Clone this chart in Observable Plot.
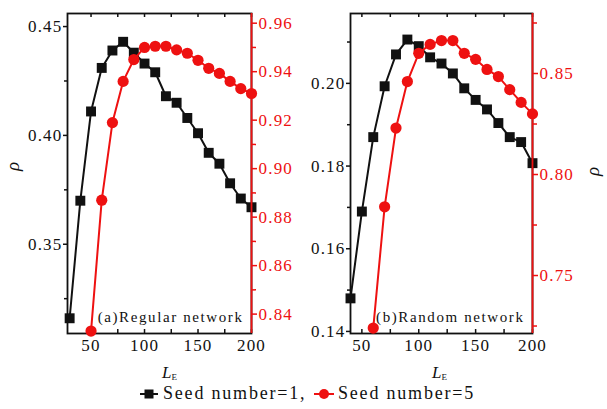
<!DOCTYPE html>
<html><head><meta charset="utf-8">
<script src="https://cdn.jsdelivr.net/npm/d3@7"></script>
<script src="https://cdn.jsdelivr.net/npm/@observablehq/plot@0.6"></script>
<style>
body{margin:0;background:#fff;}
#fig{position:relative;width:607px;height:409px;overflow:hidden;font-family:"Liberation Serif",serif;}
.layer{position:absolute;top:0;}
.layer svg{overflow:visible;}
.layer g[aria-label="y-axis tick label"] text, .layer g[aria-label="x-axis tick label"] text{letter-spacing:1.2px;}
.layer g[aria-label="text"] text{letter-spacing:1.6px;}
.lab{position:absolute;font-family:"Liberation Serif",serif;color:#111;white-space:nowrap;line-height:1;}
</style></head><body><div id="fig"></div>
<script>
// Panel (a) Regular network
const xSeed1A = [30,40,50,60,70,80,90,100,110,120,130,140,150,160,170,180,190,200];
const rhoSeed1A = [0.316,0.370,0.411,0.431,0.439,0.443,0.438,0.433,0.429,0.418,0.415,0.408,0.401,0.392,0.387,0.378,0.371,0.367];
const xSeed5A = [50,60,70,80,90,100,110,120,130,140,150,160,170,180,190,200];
const rhoSeed5A = [0.833,0.887,0.919,0.936,0.945,0.950,0.9505,0.9505,0.949,0.9476,0.9447,0.9414,0.9393,0.936,0.933,0.931];
// Panel (b) Random network
const xSeed1B = [40,50,60,70,80,90,100,110,120,130,140,150,160,170,180,190,200];
const rhoSeed1B = [0.148,0.169,0.187,0.1993,0.207,0.2106,0.209,0.2063,0.2048,0.2024,0.1988,0.196,0.1937,0.1904,0.187,0.1858,0.1807];
const xSeed5B = [60,70,80,90,100,110,120,130,140,150,160,170,180,190,200];
const rhoSeed5B = [0.724,0.784,0.823,0.846,0.860,0.8644,0.8663,0.8663,0.860,0.857,0.852,0.8485,0.842,0.8357,0.830];

const xTicks = [50,100,150,200];
const xMinorTicks = [75,125,175];
const leftTicksA = [0.35,0.40,0.45];
const leftMinorA = [0.325,0.375,0.425];
const rightTicksA = [0.84,0.86,0.88,0.90,0.92,0.94,0.96];
const rightMinorA = [0.85,0.87,0.89,0.91,0.93,0.95];
const leftTicksB = [0.14,0.16,0.18,0.20];
const leftMinorB = [0.15,0.17,0.19,0.21];
const rightTicksB = [0.75,0.80,0.85];
const rightMinorB = [0.725,0.775,0.825,0.875];
const panelLabels = ["(a)Regular network","(b)Random network"];
const legendLabels = ["Seed number=1,","Seed number=5"];

const RED = "#ee1111";
const fig = document.getElementById("fig");
const fmt2 = d3.format(".2f");

function panel(o){
  const H = 360, innerH = H - o.mT - o.mB;
  const style = {fontFamily:"Liberation Serif, serif", fontSize:"17px", background:"transparent", overflow:"visible"};
  const allX = xTicks.concat(xMinorTicks);
  const base = Plot.plot({
    width:o.width, height:H, marginLeft:o.mL, marginRight:o.mR, marginTop:o.mT, marginBottom:o.mB,
    style: {...style, color:"#111"},
    x:{domain:o.xDomain},
    y:{domain:o.yLDomain},
    marks:[
      Plot.tickX(allX,{x:d=>d, insetTop:innerH-4, stroke:"#111", strokeWidth:1.5}),
      Plot.tickX(allX,{x:d=>d, insetBottom:innerH-4, stroke:"#111", strokeWidth:1.5}),
      Plot.axisX(xTicks,{anchor:"bottom", tickSize:0, tickPadding:5, label:null}),
      Plot.axisY(o.yLTicks,{anchor:"left", tickSize:4, tickPadding:1, strokeWidth:1.5, tickFormat:fmt2, label:null}),
      Plot.axisY(o.yLMinor,{anchor:"left", tickSize:3, strokeWidth:1.5, tickFormat:()=>"", label:null}),
      Plot.frame({stroke:"#111", strokeWidth:1.8}),
      Plot.text([o.label],{frameAnchor:"bottom-right", dx:-8, dy:-12, fontSize:15, fill:"#111"}),
      Plot.line(o.xL.map((x,i)=>({x, y:o.yL[i]})),{x:"x", y:"y", stroke:"#111", strokeWidth:2}),
      Plot.dot(o.xL.map((x,i)=>({x, y:o.yL[i]})),{x:"x", y:"y", symbol:"square", r:5.6, fill:"#111"})
    ]
  });
  const over = Plot.plot({
    width:o.width, height:H, marginLeft:o.mL, marginRight:o.mR, marginTop:o.mT, marginBottom:o.mB,
    style: {...style, color:RED},
    x:{domain:o.xDomain, axis:null},
    y:{domain:o.yRDomain},
    marks:[
      Plot.ruleX([o.xDomain[1]],{stroke:RED, strokeWidth:1.8}),
      Plot.axisY(o.yRTicks,{anchor:"right", tickSize:5, tickPadding:2, strokeWidth:1.5, tickFormat:fmt2, label:null}),
      Plot.axisY(o.yRMinor,{anchor:"right", tickSize:4, strokeWidth:1.5, tickFormat:()=>"", label:null}),
      Plot.line(o.xR.map((x,i)=>({x, y:o.yR[i]})),{x:"x", y:"y", stroke:RED, strokeWidth:2}),
      Plot.dot(o.xR.map((x,i)=>({x, y:o.yR[i]})),{x:"x", y:"y", r:5.6, fill:RED})
    ]
  });
  for (const p of [base, over]) {
    const d = document.createElement("div");
    d.className = "layer";
    d.style.left = o.left + "px";
    d.appendChild(p);
    fig.appendChild(d);
  }
}

panel({left:0, width:300, mL:67, mR:49, mT:13, mB:27, xDomain:[28,200],
  yLDomain:[0.309,0.456], yLTicks:leftTicksA, yLMinor:leftMinorA, xL:xSeed1A, yL:rhoSeed1A,
  yRDomain:[0.832,0.964], yRTicks:rightTicksA, yRMinor:rightMinorA, xR:xSeed5A, yR:rhoSeed5A,
  label:panelLabels[0]});
panel({left:300, width:300, mL:50, mR:68, mT:13, mB:27, xDomain:[40,200],
  yLDomain:[0.1395,0.2169], yLTicks:leftTicksB, yLMinor:leftMinorB, xL:xSeed1B, yL:rhoSeed1B,
  yRDomain:[0.7213,0.8797], yRTicks:rightTicksB, yRMinor:rightMinorB, xR:xSeed5B, yR:rhoSeed5B,
  label:panelLabels[1]});

function addLabel(html, css){
  const s = document.createElement("div");
  s.className = "lab";
  s.innerHTML = html;
  Object.assign(s.style, css);
  fig.appendChild(s);
  return s;
}
// rho labels (rotated)
addLabel("ρ",{left:"8px", top:"157px", fontSize:"19px", fontStyle:"italic", transform:"rotate(-90deg)"});
addLabel("ρ",{left:"588px", top:"162px", fontSize:"19px", fontStyle:"italic", transform:"rotate(-90deg)"});
// x labels
const LE = '<i>L</i><span style="font-size:9px;position:relative;top:2px;">E</span>';
addLabel(LE,{left:"162px", top:"364px", fontSize:"17px"});
addLabel(LE,{left:"432px", top:"364px", fontSize:"17px"});
// legend
const sw1 = `<svg width="20" height="12"><line x1="0" y1="6" x2="18" y2="6" stroke="#111" stroke-width="2"/><rect x="4.5" y="1.5" width="9" height="9" fill="#111"/></svg>`;
const sw2 = `<svg width="22" height="12"><line x1="0" y1="6" x2="20" y2="6" stroke="${RED}" stroke-width="2"/><circle cx="10" cy="6" r="5" fill="${RED}"/></svg>`;
addLabel(sw1,{left:"140px", top:"387px"});
addLabel(legendLabels[0],{left:"163px", top:"384px", fontSize:"18px", letterSpacing:"1.8px"});
addLabel(sw2,{left:"314px", top:"387px"});
addLabel(legendLabels[1],{left:"338px", top:"384px", fontSize:"18px", letterSpacing:"1.8px"});
</script>
</body></html>
